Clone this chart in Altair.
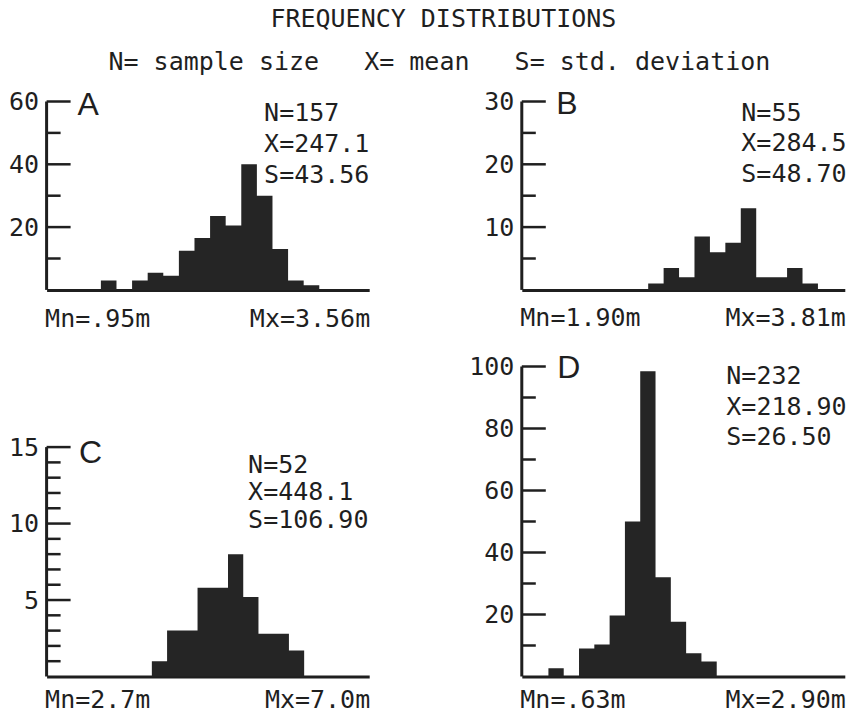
import altair as alt
import pandas as pd

FONT = "DejaVu Sans Mono"
LETTER_FONT = "Liberation Sans"
INK = "#1f1f1f"
BAR = "#252525"
NBSP = "\u00a0"

# ---- data (bar heights per class, left to right) ----
a_counts = [3, 0, 3, 5.5, 4.5, 12.5, 16.5, 23.5, 20.5, 40, 30, 13, 3, 1.5]
b_counts = [1, 3.5, 2, 8.5, 6, 7.5, 13, 2, 2, 3.5, 1]
c_counts = [1, 3, 3, 5.8, 5.8, 8, 5.2, 2.8, 2.8, 1.7]
d_counts = [2.7, 0, 9, 10.3, 19.7, 50, 98.5, 32, 17.7, 7.5, 4.8]

a_major = [20, 40, 60]
a_minor = [10, 30, 50]
b_major = [10, 20, 30]
b_minor = [5, 15, 25]
c_major = [5, 10, 15]
c_minor = [1, 2, 3, 4, 6, 7, 8, 9, 11, 12, 13, 14]
d_major = [20, 40, 60, 80, 100]
d_minor = [10, 30, 50, 70, 90]

a_stats = ["N=157", "X=247.1", "S=43.56"]
b_stats = ["N=55", "X=284.5", "S=48.70"]
c_stats = ["N=52", "X=448.1", "S=106.90"]
d_stats = ["N=232", "X=218.90", "S=26.50"]

a_range = ["Mn=.95m", "Mx=3.56m"]
b_range = ["Mn=1.90m", "Mx=3.81m"]
c_range = ["Mn=2.7m", "Mx=7.0m"]
d_range = ["Mn=.63m", "Mx=2.90m"]

title_text = "FREQUENCY DISTRIBUTIONS"
subtitle_parts = ["N= sample size", "X= mean", "S= std. deviation"]


def one_text(txt, x, y, font=FONT, size=25, align="left", baseline="middle", **kw):
    return alt.Chart(pd.DataFrame({"t": [txt]})).mark_text(
        font=font, fontSize=size, color=INK, align=align, baseline=baseline, **kw
    ).encode(text="t:N", x=alt.value(x), y=alt.value(y))


def panel(letter, counts, xdom, ymax, major, minor, stats, rng, w, h,
          letter_pos, stats_pos, line_h, range_y, extra=None):
    # step outline: each class starts at its index; closing point at the last class end
    starts = list(range(len(counts))) + [len(counts)]
    heights = list(counts) + [counts[-1]]
    df = pd.DataFrame({"start": starts, "count": heights})
    top = max(major)

    yscale = alt.Scale(domain=[0, ymax], nice=False, zero=True)
    yaxis = alt.Axis(values=major, ticks=False, tickSize=0, domain=False, grid=False,
                     title=None, labelFont=FONT, labelFontSize=25, labelColor=INK,
                     labelPadding=8)
    xscale = alt.Scale(domain=xdom, nice=False, zero=False)
    xaxis = alt.Axis(labels=False, ticks=False, grid=False, title=None,
                     domain=True, domainColor=INK, domainWidth=3)

    bars = alt.Chart(df).mark_area(color=BAR, interpolate="step-after", opacity=1).encode(
        x=alt.X("start:Q", scale=xscale, axis=xaxis),
        y=alt.Y("count:Q", scale=yscale, axis=yaxis),
    )
    axis_line = alt.Chart(pd.DataFrame({"lo": [0], "hi": [top]})).mark_rule(
        color=INK, strokeWidth=3
    ).encode(x=alt.value(0), y=alt.Y("lo:Q", scale=yscale, axis=yaxis), y2="hi:Q")
    major_ticks = alt.Chart(pd.DataFrame({"v": major})).mark_rule(
        color=INK, strokeWidth=2.5
    ).encode(y=alt.Y("v:Q", scale=yscale, axis=yaxis), x=alt.value(0), x2=alt.value(24))
    minor_ticks = alt.Chart(pd.DataFrame({"v": minor})).mark_rule(
        color=INK, strokeWidth=2.5
    ).encode(y=alt.Y("v:Q", scale=yscale, axis=yaxis), x=alt.value(0), x2=alt.value(14))

    lab = one_text(letter, letter_pos[0], letter_pos[1], font=LETTER_FONT, size=32)
    st = one_text("\n".join(stats), stats_pos[0], stats_pos[1],
                  lineBreak="\n", lineHeight=line_h)
    mn = one_text(rng[0], -1.5, range_y)
    mx = one_text(rng[1], w + 1, range_y, align="right")

    layers = [bars, axis_line, major_ticks, minor_ticks, lab, st, mn, mx]
    if extra:
        layers += extra
    return alt.layer(*layers).properties(width=w, height=h)


W1, W2 = 322.6, 323
H1, H2 = 188.4, 310

gap = NBSP * 3
titles = [
    one_text(title_text, 396.8, -82.2, align="center"),
    one_text(gap.join(subtitle_parts), 392.8, -39.7, align="center"),
]

A = panel("A", a_counts, [-3.48, 17.2], 60, a_major, a_minor, a_stats, a_range,
          W1, H1, (31, 3), (217.5, 11.8), 30.7, 217.5, extra=titles)
B = panel("B", b_counts, [-8.19, 12.74], 30, b_major, b_minor, b_stats, b_range,
          W2, H1, (34.5, 2), (219.5, 11), 30.8, 216.5)
C = panel("C", c_counts, [-6.91, 14.27], 20.27, c_major, c_minor, c_stats, c_range,
          W1, H2, (32.3, 87), (201.5, 98.3), 27.6, 333.5)
D = panel("D", d_counts, [-1.74, 19.37], 100, d_major, d_minor, d_stats, d_range,
          W2, H2, (35.5, 2), (204.5, 10), 30.5, 333.5)

chart = alt.concat(
    A, B, C, D, columns=2,
    spacing={"row": 76, "column": 152.2}, bounds="flush",
).properties(
    padding={"left": 7.6, "top": 6.5, "right": 5, "bottom": 2},
    background="white",
).configure_view(stroke=None)

chart.save("out.html", embed_options={"renderer": "svg", "actions": False})
